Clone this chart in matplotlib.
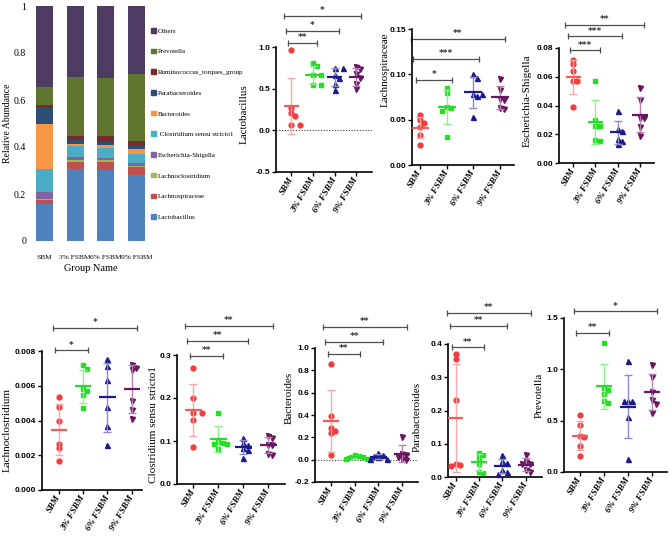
"""Gut microbiota composition: stacked relative abundance plus per-genus dot plots."""

import matplotlib

matplotlib.use("Agg")
import matplotlib.pyplot as plt
import numpy as np
from matplotlib.patches import Patch

W, H = 669, 546

groups = ["SBM", "3% FSBM", "6% FSBM", "9% FSBM"]

# ---- stacked relative abundance (bottom -> top) ----
taxa = [
    "Lactobacillus", "Lachnospiraceae", "Lachnoclostridium", "Escherichia-Shigella",
    " Clostridium sensu stricto1", "Bacteroides", "Parabacteroides",
    "Ruminococcus_torques_group", "Prevotella", "Others",
]
ra_lactobacillus = [0.156, 0.305, 0.303, 0.281]
ra_lachnospiraceae = [0.020, 0.033, 0.035, 0.034]
ra_lachnoclostridium = [0.004, 0.006, 0.006, 0.006]
ra_escherichia = [0.030, 0.014, 0.010, 0.010]
ra_clostridium = [0.095, 0.047, 0.042, 0.040]
ra_bacteroides = [0.192, 0.007, 0.012, 0.022]
ra_parabacteroides = [0.068, 0.018, 0.015, 0.015]
ra_ruminococcus = [0.015, 0.017, 0.023, 0.018]
ra_prevotella = [0.074, 0.250, 0.246, 0.284]
ra_others = [0.346, 0.303, 0.308, 0.290]

# ---- per-animal abundances (n=6 per group) ----
lactobacillus_pts = [
    [0.96, 0.27, 0.21, 0.17, 0.065, 0.065],
    [0.805, 0.776, 0.663, 0.663, 0.549, 0.549],
    [0.75, 0.75, 0.66, 0.63, 0.55, 0.48],
    [0.76, 0.73, 0.67, 0.63, 0.56, 0.49],
]
lachnospiraceae_pts = [
    [0.055, 0.050, 0.046, 0.042, 0.033, 0.022],
    [0.085, 0.079, 0.064, 0.063, 0.060, 0.031],
    [0.100, 0.096, 0.078, 0.078, 0.076, 0.053],
    [0.095, 0.083, 0.073, 0.072, 0.063, 0.062],
]
escherichia_pts = [
    [0.072, 0.069, 0.064, 0.057, 0.057, 0.039],
    [0.057, 0.030, 0.026, 0.026, 0.016, 0.015],
    [0.036, 0.024, 0.022, 0.017, 0.0155, 0.0135],
    [0.052, 0.044, 0.031, 0.031, 0.025, 0.019],
]
lachnoclostridium_pts = [
    [0.00536, 0.00478, 0.00398, 0.00264, 0.00239, 0.00167],
    [0.00718, 0.00695, 0.00580, 0.00568, 0.00545, 0.00473],
    [0.00756, 0.00712, 0.00635, 0.00480, 0.00367, 0.00258],
    [0.00720, 0.00705, 0.00690, 0.00510, 0.00460, 0.00410],
]
clostridium_pts = [
    [0.269, 0.201, 0.166, 0.166, 0.149, 0.085],
    [0.165, 0.098, 0.096, 0.094, 0.092, 0.082],
    [0.108, 0.095, 0.090, 0.083, 0.080, 0.060],
    [0.112, 0.108, 0.091, 0.090, 0.070, 0.068],
]
bacteroides_pts = [
    [0.86, 0.39, 0.28, 0.26, 0.24, 0.04],
    [0.04, 0.03, 0.02, 0.02, 0.01, 0.01],
    [0.06, 0.04, 0.03, 0.02, 0.01, 0.005],
    [0.20, 0.05, 0.04, 0.02, 0.01, 0.0],
]
parabacteroides_pts = [
    [0.370, 0.355, 0.233, 0.040, 0.037, 0.032],
    [0.072, 0.066, 0.058, 0.040, 0.015, 0.012],
    [0.065, 0.048, 0.043, 0.020, 0.015, 0.009],
    [0.067, 0.045, 0.040, 0.038, 0.020, 0.015],
]
prevotella_pts = [
    [0.56, 0.46, 0.35, 0.34, 0.25, 0.16],
    [1.26, 0.82, 0.80, 0.76, 0.69, 0.67],
    [1.08, 0.69, 0.69, 0.69, 0.54, 0.13],
    [1.04, 0.93, 0.78, 0.70, 0.66, 0.57],
]

# significance vs SBM: (group index, stars)
lactobacillus_sig = [(1, "**"), (2, "*"), (3, "*")]
lachnospiraceae_sig = [(1, "*"), (2, "***"), (3, "**")]
escherichia_sig = [(1, "***"), (2, "***"), (3, "**")]
lachnoclostridium_sig = [(1, "*"), (3, "*")]
clostridium_sig = [(1, "**"), (2, "**"), (3, "**")]
bacteroides_sig = [(1, "**"), (2, "**"), (3, "**")]
parabacteroides_sig = [(1, "**"), (2, "**"), (3, "**")]
prevotella_sig = [(1, "**"), (3, "*")]

# ---- styles ----
STACK_COLORS = ["#4F81BD", "#C0504D", "#9BBB59", "#8064A2", "#4BACC6",
                "#F79646", "#2C4D75", "#772C2A", "#5F7530", "#4D3B62"]
GROUP_COLORS = ["#F23C3C", "#22E022", "#1B1B8C", "#6A1462"]
GROUP_LIGHT = ["#F7A8A8", "#8CF08C", "#8C8CC8", "#B482AE"]
GROUP_MEAN = ["#F35C5C", "#2BDB2B", "#1B1B8C", "#6A1462"]
MARKERS = ["o", "s", "^", "v"]
MSIZES = [3.5, 3.2, 3.6, 3.6]
SERIF = ["Liberation Serif", "DejaVu Serif"]
NARROW = ["Liberation Sans Narrow", "Liberation Sans", "DejaVu Sans"]
BRACKET = "#505050"


def px_axes(fig, left, top, right, bottom):
    return fig.add_axes([left / W, 1 - bottom / H, (right - left) / W, (bottom - top) / H])


def swarm(ax, xc, vals, diam):
    """Spread overlapping points sideways (in pixel space) so every marker shows."""
    placed, xs = [], []
    for v in vals:
        px, py = ax.transData.transform((xc, v))
        for k in [0, 1, -1, 2, -2, 3, -3]:
            cx = px + k * diam
            if all(np.hypot(cx - qx, py - qy) >= diam for qx, qy in placed):
                break
        placed.append((cx, py))
        xs.append(ax.transData.inverted().transform((cx, py))[0])
    return xs


def dot_panel(fig, rect, name, pts, sig, ylim, yticks, fmt, xlim, levels, label_pos, zero_line=False):
    ax = px_axes(fig, *rect)
    ax.set_xlim(*xlim)
    ax.set_ylim(*ylim)
    for s in ("top", "right"):
        ax.spines[s].set_visible(False)
    for s in ("left", "bottom"):
        ax.spines[s].set_linewidth(1.2)
    ax.tick_params(direction="out", length=3, width=1, pad=1.2)
    ax.set_yticks(yticks)
    ax.set_yticklabels([fmt % t for t in yticks], family=NARROW, fontweight="bold", fontsize=6)
    ax.set_xticks(range(len(groups)))
    ax.set_xticklabels(groups, rotation=60, ha="right", va="center", rotation_mode="anchor",
                       family=SERIF, fontweight="bold", fontstyle="italic", fontsize=6.5)
    ax.set_ylabel(name, family=SERIF, fontsize=8)
    ax.yaxis.set_label_coords(*label_pos)

    if zero_line:
        ax.axhline(0, color="#444444", lw=0.8, ls=(0, (1, 1.5)), zorder=1)

    for i, vals in enumerate(pts):
        xs = swarm(ax, i, vals, 4.2)
        ax.plot(xs, vals, ls="none", marker=MARKERS[i], ms=MSIZES[i],
                color=GROUP_COLORS[i], mec=GROUP_COLORS[i], zorder=3, clip_on=False)
        m, sd = np.mean(vals), np.std(vals, ddof=1)
        ax.errorbar(i, m, yerr=sd, fmt="none", ecolor=GROUP_LIGHT[i], elinewidth=1,
                    capsize=3, capthick=1, zorder=4)
        ax.hlines(m, i - 0.34, i + 0.34, color=GROUP_MEAN[i], lw=1.6, zorder=5)

    trans = ax.get_xaxis_transform()
    for k, ((j, stars), lvl) in enumerate(zip(sig, levels)):
        x0, x1 = -0.15 - 0.1 * k, j + 0.2
        ax.plot([x0, x1], [lvl, lvl], color=BRACKET, lw=0.9, marker="|", ms=4,
                mew=0.9, transform=trans, clip_on=False)
        ax.annotate(stars, xy=((x0 + x1) / 2, lvl), xycoords=trans, xytext=(0, 0.5),
                    textcoords="offset points", ha="center", va="bottom",
                    fontsize=6.5, fontweight="bold", color="#333333")
    return ax


fig = plt.figure(figsize=(W / 100, H / 100), dpi=100)

# ---- stacked bar panel ----
ax0 = px_axes(fig, 29, 6, 152, 241)
stack = [ra_lactobacillus, ra_lachnospiraceae, ra_lachnoclostridium, ra_escherichia,
         ra_clostridium, ra_bacteroides, ra_parabacteroides, ra_ruminococcus,
         ra_prevotella, ra_others]
bottom = np.zeros(len(groups))
for vals, color, label in zip(stack, STACK_COLORS, taxa):
    ax0.bar(range(len(groups)), vals, width=0.56, bottom=bottom, color=color, label=label)
    bottom += np.array(vals)
ax0.set_xlim(-0.5, 3.5)
ax0.set_ylim(0, 1)
for s in ax0.spines.values():
    s.set_visible(False)
ax0.tick_params(length=0, pad=2)
ax0.set_yticks([0, 0.2, 0.4, 0.6, 0.8, 1])
ax0.set_yticklabels(["0", "0.2", "0.4", "0.6", "0.8", "1"], family=SERIF, fontsize=7)
ax0.set_xticks(range(len(groups)))
ax0.set_xticklabels(groups, family=SERIF, fontsize=5.3)
ax0.tick_params(axis="x", pad=10)
ax0.set_xlabel("Group Name", family=SERIF, fontsize=7.5, labelpad=3)
ax0.set_ylabel("Relative Abundance", family=SERIF, fontsize=7)
ax0.yaxis.set_label_coords(-0.14, 0.5)

handles = [Patch(color=c, label=t) for c, t in zip(STACK_COLORS, taxa)][::-1]
leg = ax0.legend(handles=handles, loc="upper left", bbox_to_anchor=(151 / W, 1 - 28 / H),
                 bbox_transform=fig.transFigure, frameon=False, fontsize=5,
                 labelspacing=2.15, handlelength=0.65, handleheight=0.65,
                 handletextpad=0.3, borderpad=0, borderaxespad=0)
for t in leg.get_texts():
    t.set_family(SERIF)

# ---- dot plot panels ----
dot_panel(fig, (276, 47, 372, 172), "Lactobacillus", lactobacillus_pts, lactobacillus_sig,
          (-0.5, 1.0), [-0.5, 0.0, 0.5, 1.0], "%.1f", (-0.70, 3.73),
          [1.032, 1.127, 1.251], (-0.28, 0.46), zero_line=True)
dot_panel(fig, (412, 29, 514, 165), "Lachnospiraceae", lachnospiraceae_pts, lachnospiraceae_sig,
          (0, 0.15), [0, 0.05, 0.10, 0.15], "%.2f", (-0.30, 3.53),
          [0.627, 0.78, 0.927], (-0.215, 0.70))
dot_panel(fig, (559, 48, 654, 163), "Escherichia-Shigella", escherichia_pts, escherichia_sig,
          (0, 0.08), [0, 0.02, 0.04, 0.06, 0.08], "%.2f", (-0.64, 3.63),
          [0.98, 1.10, 1.204], (-0.285, 0.54))
dot_panel(fig, (42, 351, 142, 490), "Lachnoclostridium", lachnoclostridium_pts, lachnoclostridium_sig,
          (0, 0.008), [0, 0.002, 0.004, 0.006, 0.008], "%.3f", (-0.69, 3.42),
          [1.005, 1.165], (-0.30, 0.43))
dot_panel(fig, (177, 355, 285, 484), "Clostridium sensu stricto1", clostridium_pts, clostridium_sig,
          (0, 0.3), [0, 0.1, 0.2, 0.3], "%.1f", (-0.66, 3.67),
          [0.995, 1.109, 1.225], (-0.176, 0.46))
dot_panel(fig, (315, 348, 418, 482), "Bacteroides", bacteroides_pts, bacteroides_sig,
          (-0.2, 1.0), [-0.2, 0.0, 0.2, 0.4, 0.6, 0.8, 1.0], "%.1f", (-0.68, 3.67),
          [0.958, 1.045, 1.157], (-0.204, 0.63), zero_line=True)
dot_panel(fig, (448, 344, 542, 477), "Parabacteroides", parabacteroides_pts, parabacteroides_sig,
          (0, 0.4), [0, 0.1, 0.2, 0.3, 0.4], "%.1f", (-0.32, 3.69),
          [0.975, 1.137, 1.235], (-0.277, 0.45))
dot_panel(fig, (564, 318, 667, 472), "Prevotella", prevotella_pts, prevotella_sig,
          (0, 1.5), [0, 0.5, 1.0, 1.5], "%.1f", (-0.66, 3.63),
          [0.902, 1.043], (-0.194, 0.50))

fig.savefig("out.png", dpi=100)
